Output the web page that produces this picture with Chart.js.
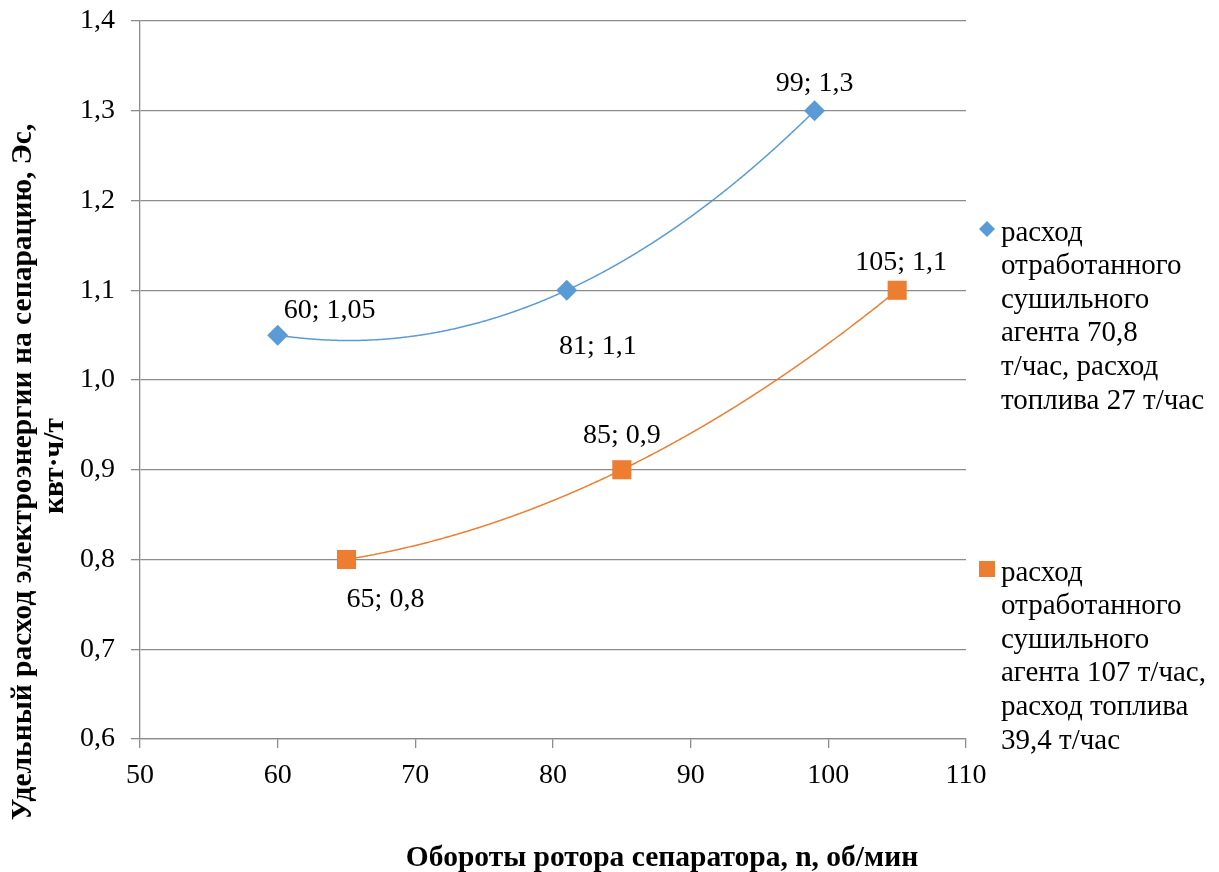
<!DOCTYPE html>
<html lang="ru">
<head>
<meta charset="utf-8">
<title>Удельный расход электроэнергии на сепарацию</title>
<script src="https://cdn.jsdelivr.net/npm/chart.js@4.4.1/dist/chart.umd.min.js"></script>
<style>
  html, body { margin: 0; padding: 0; background: #ffffff; }
  #wrap { position: relative; width: 1219px; height: 872px; }
</style>
</head>
<body>
<div id="wrap"><canvas id="chart" width="1219" height="872"></canvas></div>
<script>
// Обороты ротора сепаратора (об/мин) и удельный расход (квт·ч/т)
const rpmSeries1 = [60, 81, 99];
const energySeries1 = [1.05, 1.1, 1.3];
const rpmSeries2 = [65, 85, 105];
const energySeries2 = [0.8, 0.9, 1.1];

const seriesNames = [
  'расход отработанного сушильного агента 70,8 т/час, расход топлива 27 т/час',
  'расход отработанного сушильного агента 107 т/час, расход топлива 39,4 т/час'
];
const legendLines = [
  ['расход', 'отработанного', 'сушильного', 'агента 70,8', 'т/час, расход', 'топлива 27 т/час'],
  ['расход', 'отработанного', 'сушильного', 'агента 107 т/час,', 'расход топлива', '39,4 т/час']
];
const xTicks = [50, 60, 70, 80, 90, 100, 110];
const yTicks = [0.6, 0.7, 0.8, 0.9, 1.0, 1.1, 1.2, 1.3, 1.4];

const xTitle = 'Обороты ротора сепаратора, n, об/мин';
const yTitle = ['Удельный расход электроэнергии на сепарацию, Эс,', 'квт·ч/т'];

const BLUE = '#5B9BD5';
const ORANGE = '#ED7D31';
const FONT = "'Liberation Serif', 'Times New Roman', serif";
const GRID = '#8c8c8c';
const TEXT_SIZE = 28;
const LEGEND_SIZE = 29;
const TITLE_SIZE = 29.5;

const fmt = (v) => String(+v.toFixed(2)).replace('.', ',');

// Second-order polynomial trend line (least squares), drawn over the data range
function quadFit(xs, ys) {
  let s = [0, 0, 0, 0, 0], t = [0, 0, 0];
  for (let i = 0; i < xs.length; i++) {
    let p = 1;
    for (let k = 0; k < 5; k++) { s[k] += p; if (k < 3) t[k] += p * ys[i]; p *= xs[i]; }
  }
  const M = [[s[0], s[1], s[2], t[0]], [s[1], s[2], s[3], t[1]], [s[2], s[3], s[4], t[2]]];
  for (let c = 0; c < 3; c++) {
    let piv = c;
    for (let r = c + 1; r < 3; r++) if (Math.abs(M[r][c]) > Math.abs(M[piv][c])) piv = r;
    [M[c], M[piv]] = [M[piv], M[c]];
    for (let r = 0; r < 3; r++) {
      if (r === c) continue;
      const f = M[r][c] / M[c][c];
      for (let k = c; k < 4; k++) M[r][k] -= f * M[c][k];
    }
  }
  return [M[0][3] / M[0][0], M[1][3] / M[1][1], M[2][3] / M[2][2]];
}

const trendPlugin = {
  id: 'trend',
  beforeDatasetsDraw(chart) {
    const { ctx, scales: { x, y }, chartArea } = chart;
    ctx.save();
    ctx.beginPath();
    ctx.rect(chartArea.left, chartArea.top, chartArea.width, chartArea.height);
    ctx.clip();
    chart.data.datasets.forEach((ds) => {
      const xs = ds.data.map(p => p.x), ys = ds.data.map(p => p.y);
      const [a, b, c] = quadFit(xs, ys);
      const x0 = Math.min(...xs), x1 = Math.max(...xs);
      const px0 = x.getPixelForValue(x0), px1 = x.getPixelForValue(x1);
      ctx.beginPath();
      for (let px = px0; px <= px1 + 0.01; px += 1) {
        const xv = x.getValueForPixel(Math.min(px, px1));
        const yv = a + b * xv + c * xv * xv;
        const py = y.getPixelForValue(yv);
        if (px === px0) ctx.moveTo(px, py); else ctx.lineTo(px, py);
      }
      ctx.strokeStyle = ds.backgroundColor;
      ctx.lineWidth = 1.5;
      ctx.stroke();
    });
    ctx.restore();
  }
};

// Value labels "x; y" next to each point
const labelPlugin = {
  id: 'pointLabels',
  afterDatasetsDraw(chart) {
    const { ctx } = chart;
    ctx.save();
    ctx.font = TEXT_SIZE + 'px ' + FONT;
    ctx.fillStyle = '#000';
    ctx.textAlign = 'center';
    ctx.textBaseline = 'middle';
    chart.data.datasets.forEach((ds, di) => {
      const meta = chart.getDatasetMeta(di);
      meta.data.forEach((el, i) => {
        const p = ds.data[i];
        const off = ds.labelOffsets[i];
        ctx.fillText(p.x + '; ' + fmt(p.y), el.x + off[0], el.y + off[1]);
      });
    });
    ctx.restore();
  }
};

// Axis titles and the wrapped legend on the right
const decorPlugin = {
  id: 'decor',
  afterDraw(chart) {
    const { ctx } = chart;
    ctx.save();
    ctx.fillStyle = '#000';
    ctx.textAlign = 'center';
    ctx.textBaseline = 'middle';
    ctx.font = 'bold ' + TITLE_SIZE + 'px ' + FONT;
    ctx.fillText(xTitle, 662, 858);

    ctx.save();
    ctx.translate(23, 472);
    ctx.rotate(-Math.PI / 2);
    ctx.fillText(yTitle[0], 0, 0);
    ctx.fillText(yTitle[1], 6, 32);
    ctx.restore();

    // legend
    ctx.font = LEGEND_SIZE + 'px ' + FONT;
    ctx.textAlign = 'left';
    const starts = [233, 573];
    legendLines.forEach((lines, li) => {
      const y0 = starts[li];
      lines.forEach((ln, k) => ctx.fillText(ln, 1001, y0 + k * 33.6));
      const mx = 987, my = y0 - 4;
      ctx.fillStyle = li === 0 ? BLUE : ORANGE;
      ctx.beginPath();
      if (li === 0) {
        ctx.moveTo(mx, my - 8); ctx.lineTo(mx + 8, my); ctx.lineTo(mx, my + 8); ctx.lineTo(mx - 8, my);
        ctx.closePath();
      } else {
        ctx.rect(mx - 8, my - 8, 16, 16);
      }
      ctx.fill();
      ctx.fillStyle = '#000';
    });
    ctx.restore();
  }
};

const toPoints = (xs, ys) => xs.map((x, i) => ({ x, y: ys[i] }));

// keep the plot area fixed: no extra room for overflowing edge tick labels
const noEdgePadding = (s) => { s.paddingTop = 0; s.paddingBottom = 0; s.paddingLeft = 0; s.paddingRight = 0; };

new Chart(document.getElementById('chart'), {
  type: 'scatter',
  data: {
    datasets: [
      {
        label: seriesNames[0],
        data: toPoints(rpmSeries1, energySeries1),
        backgroundColor: BLUE,
        borderColor: BLUE,
        borderWidth: 0,
        pointStyle: 'rectRot',
        pointRadius: 10.5,
        pointHoverRadius: 10.5,
        labelOffsets: [[52, -24], [31, 56], [0, -27]]
      },
      {
        label: seriesNames[1],
        data: toPoints(rpmSeries2, energySeries2),
        backgroundColor: ORANGE,
        borderColor: ORANGE,
        borderWidth: 0,
        pointStyle: 'rect',
        pointRadius: 13.5,
        pointHoverRadius: 13.5,
        labelOffsets: [[39, 40], [0, -34], [4, -28]]
      }
    ]
  },
  options: {
    responsive: false,
    animation: false,
    events: [],
    layout: { padding: { left: 0, right: 253, top: 21, bottom: 0 } },
    plugins: {
      legend: { display: false },
      tooltip: { enabled: false }
    },
    scales: {
      x: {
        type: 'linear',
        min: xTicks[0],
        max: xTicks[xTicks.length - 1],
        afterBuildTicks: (s) => { s.ticks = xTicks.map(v => ({ value: v })); },
        afterFit: (s) => { s.height = 872 - 739; noEdgePadding(s); },
        border: { display: true, color: GRID, width: 1.3 },
        grid: { display: true, drawOnChartArea: false, drawTicks: true, tickLength: 9, color: GRID, lineWidth: 1.3 },
        ticks: {
          font: { family: FONT, size: TEXT_SIZE },
          color: '#000',
          padding: 11,
          maxRotation: 0,
          callback: (v) => String(v)
        }
      },
      y: {
        type: 'linear',
        min: yTicks[0],
        max: yTicks[yTicks.length - 1],
        afterBuildTicks: (s) => { s.ticks = yTicks.map(v => ({ value: v })); },
        afterFit: (s) => { s.width = 140; noEdgePadding(s); },
        border: { display: true, color: GRID, width: 1.3 },
        grid: { display: true, drawTicks: true, tickLength: 9, color: GRID, lineWidth: 1.3 },
        ticks: {
          font: { family: FONT, size: TEXT_SIZE },
          color: '#000',
          padding: 16,
          callback: (v) => v.toFixed(1).replace('.', ',')
        }
      }
    }
  },
  plugins: [trendPlugin, labelPlugin, decorPlugin]
});
</script>
</body>
</html>
